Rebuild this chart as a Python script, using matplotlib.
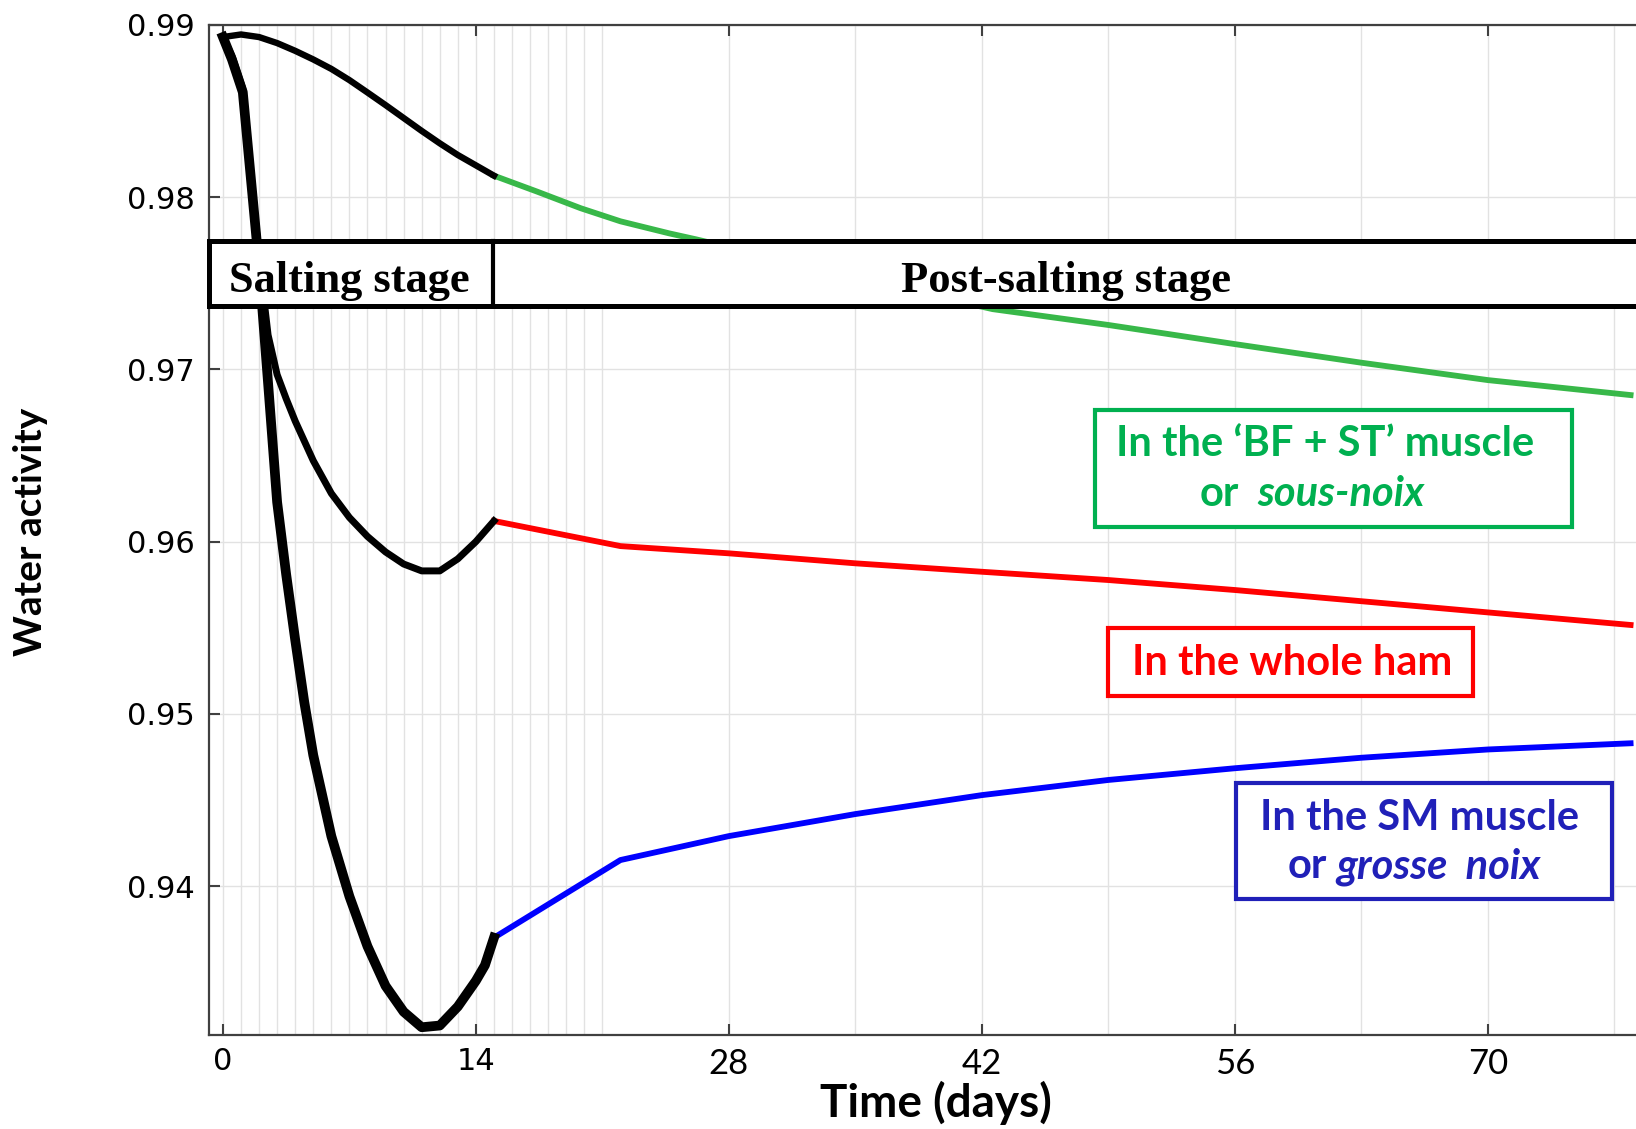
import numpy as np
import matplotlib.pyplot as plt
from matplotlib.patches import Rectangle

# water activity in ham, salting (0-15 d) then post-salting
salt_days_bf = [0, 1, 2, 3, 4, 5, 6, 7, 8, 9, 10, 11, 12, 13, 14, 15]
salt_aw_bf = [0.9893, 0.98945, 0.9893, 0.98895, 0.9885, 0.9880, 0.98745, 0.9868,
              0.98608, 0.98535, 0.9846, 0.98385, 0.98313, 0.98245, 0.98185, 0.98125]

salt_days_ham = [0, 0.5, 1.1, 1.6, 2.0, 2.5, 3.0, 3.5, 4.0, 5.0, 6.0, 7.0, 8.0,
                 9.0, 10.0, 11.0, 12.0, 13.0, 14.0, 15.0]
salt_aw_ham = [0.9893, 0.9882, 0.9863, 0.9808, 0.9765, 0.9720, 0.9697, 0.9683, 0.9670,
               0.9647, 0.9628, 0.9614, 0.9603, 0.9594, 0.9587, 0.9583, 0.9583, 0.9590,
               0.9600, 0.9612]

salt_days_sm = [0, 0.5, 1.1, 1.6, 2.0, 2.5, 3.0, 3.5, 4.0, 4.5, 5.0, 6.0, 7.0, 8.0,
                9.0, 10.0, 11.0, 12.0, 13.0, 14.0, 14.5, 15.0]
salt_aw_sm = [0.9893, 0.9880, 0.9861, 0.9805, 0.9760, 0.9692, 0.9623, 0.9581, 0.9543,
              0.9507, 0.9476, 0.9429, 0.9394, 0.9365, 0.9342, 0.9327, 0.9318, 0.9319,
              0.9330, 0.9345, 0.9354, 0.9370]

post_days_bf = [15, 17.4, 19.8, 22, 24.7, 26.2, 28, 35, 42.6, 49, 56, 63, 70, 77.9]
post_aw_bf = [0.98125, 0.98032, 0.97936, 0.9786, 0.9779, 0.97755, 0.9771, 0.9753,
              0.9735, 0.97258, 0.97147, 0.97039, 0.96938, 0.96851]

post_days = [15, 22, 28, 35, 42, 49, 56, 63, 70, 77.9]
post_aw_ham = [0.9612, 0.95974, 0.95932, 0.95874, 0.95825, 0.95777, 0.95719, 0.95654,
               0.95589, 0.95516]
post_aw_sm = [0.9370, 0.94151, 0.9429, 0.94418, 0.94528, 0.94616, 0.94684, 0.94745,
              0.94793, 0.94829]

xtick_vals = [0, 14, 28, 42, 56, 70]
ytick_vals = [0.94, 0.95, 0.96, 0.97, 0.98, 0.99]

green_line = '#38b849'
green_txt = '#00b050'
red = '#ff0000'
blue_line = '#0000ff'
blue_txt = '#2020b8'

W, H = 1636, 1129
fig = plt.figure(figsize=(W / 100, H / 100), dpi=100)
ax = fig.add_axes([209 / W, 94 / H, (W - 209) / W, (1035 - 25) / H])

# grid: daily during the first three weeks, weekly afterwards
grid_days = list(range(0, 22)) + list(range(28, 78, 7))
for d in grid_days:
    ax.axvline(d, color='#e2e2e2', lw=1.0, zorder=0)
for v in ytick_vals:
    ax.axhline(v, color='#e2e2e2', lw=1.0, zorder=0)

ax.plot(post_days_bf, post_aw_bf, color=green_line, lw=4.2, zorder=2)
ax.plot(post_days, post_aw_ham, color=red, lw=4.2, zorder=2)
ax.plot(post_days, post_aw_sm, color=blue_line, lw=4.2, zorder=2)
ax.plot(salt_days_bf, salt_aw_bf, color='black', lw=4.6, zorder=3)
ax.plot(salt_days_ham, salt_aw_ham, color='black', lw=5.0, zorder=3)
ax.plot(salt_days_sm, salt_aw_sm, color='black', lw=7.0, zorder=3)

ax.set_xlim(-0.77, 78.2)
ax.set_ylim(0.93135, 0.99)

ax.set_xticks(xtick_vals, [str(t) for t in xtick_vals])
ax.set_yticks(ytick_vals, ['%.2f' % v for v in ytick_vals])
ax.tick_params(direction='in', length=8, width=1.5, color='#404040', top=True, right=False)
ax.tick_params(axis='y', pad=10, labelsize=22)
ax.tick_params(axis='x', pad=9, labelsize=25)
for lab in ax.get_yticklabels():
    lab.set_family('DejaVu Sans')
for lab in ax.get_xticklabels():
    if lab.get_text() in ('0', '14'):
        lab.set_family('DejaVu Sans')
        lab.set_fontsize(22)
    else:
        lab.set_family('Lato')
for s in ['left', 'bottom', 'top']:
    ax.spines[s].set_color('#404040')
    ax.spines[s].set_linewidth(1.6)
ax.spines['right'].set_visible(False)

fig.text(31 / W, 1 - 532 / H, 'Water activity', rotation=90, ha='center', va='center',
         fontsize=28, fontweight='bold', family='Lato')
fig.text(936 / W, 1 - 1103 / H, 'Time (days)', ha='center', va='center',
         fontsize=33, fontweight='bold', family='Lato')

# stage band
band_lo, band_hi = 0.97368, 0.97747
stage_split = 14.95
ax.add_patch(Rectangle((-0.77, band_lo), 80, band_hi - band_lo, facecolor='white',
                       edgecolor='black', lw=3.6, zorder=5, clip_on=False))
ax.plot([stage_split, stage_split], [band_lo, band_hi], color='black', lw=3.0, zorder=6)
band_base = 0.97449
ax.text(7.0, band_base, 'Salting stage', ha='center', va='baseline', fontsize=32,
        fontweight='bold', family='Liberation Serif', zorder=7)
ax.text(46.65, band_base, 'Post-salting stage', ha='center', va='baseline', fontsize=32,
        fontweight='bold', family='Liberation Serif', zorder=7)


def fbox(x0, y0, x1, y1, color):
    r = Rectangle((x0 / W, 1 - y1 / H), (x1 - x0) / W, (y1 - y0) / H,
                  transform=fig.transFigure, facecolor='white', edgecolor=color,
                  lw=3.0, zorder=8)
    fig.add_artist(r)


def ftext(x, y, s, color, ha='center', style='normal'):
    fig.text(x / W, 1 - y / H, s, ha=ha, va='baseline', color=color, fontsize=30,
             fontweight='bold', style=style, family='Lato', zorder=9)


fbox(1095, 410, 1572, 527, green_txt)
ftext(1325, 456, 'In the \u2018BF + ST\u2019 muscle', green_txt)
ftext(1239, 506, 'or', green_txt, ha='right')
ftext(1257, 506, 'sous-noix', green_txt, ha='left', style='italic')

fbox(1108, 628, 1473, 696, red)
ftext(1292, 675, 'In the whole ham', red)

fbox(1236, 783, 1612, 899, blue_txt)
ftext(1420, 830, 'In the SM muscle', blue_txt)
ftext(1327, 878, 'or', blue_txt, ha='right')
ftext(1336, 878, 'grosse  noix', blue_txt, ha='left', style='italic')

fig.savefig('out.png', dpi=100)
